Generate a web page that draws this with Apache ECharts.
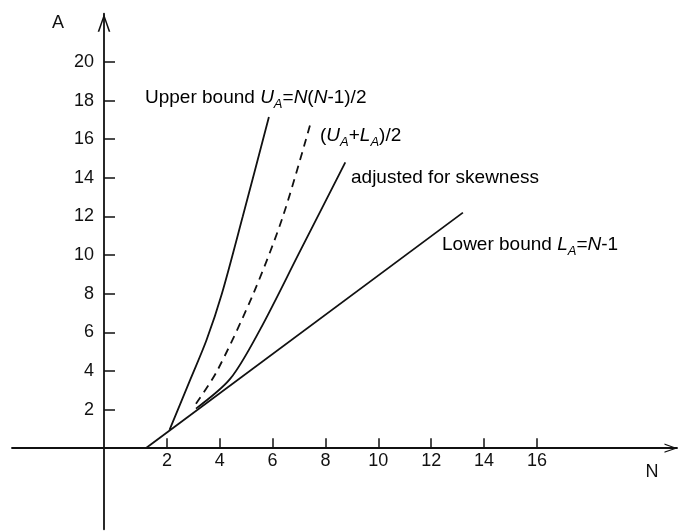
<!DOCTYPE html>
<html>
<head>
<meta charset="utf-8">
<title>bounds on A</title>
<script src="https://cdn.jsdelivr.net/npm/echarts@6/dist/echarts.min.js"></script>
<style>
	body { margin: 0; background: #fff; }
	#chart { width: 678px; height: 532px; }
</style>
</head>
<body>
<div id="chart"></div>
<script>
	// tick labels
	var nTicks = [2, 4, 6, 8, 10, 12, 14, 16];
	var aTicks = [2, 4, 6, 8, 10, 12, 14, 16, 18, 20];

	// curves, [N, A]
	var upperBound = [[2.1, 0.95], [2.9, 3.6], [3.5, 5.6], [4.08, 8], [4.87, 12], [5.86, 17.15]];
	var midBound = [[3.1, 2.3], [3.9, 4], [5.27, 8], [6.39, 12], [7.45, 16.9]];
	var adjusted = [[3.1, 2.05], [4.4, 3.6], [5.52, 6.13], [7.0, 10.1], [8.75, 14.8]];
	var lowerBound = [[1.2, 0], [13.2, 12.2]];

	var ink = '#111';
	var fam = '"Liberation Sans", Arial, sans-serif';
	// open arrow head, pointing up
	var chevron = 'path://M6,0 L12,17 L10.4,17 L6,4 L1.6,17 L0,17 Z';

	var rich = {
		t: { fontSize: 19, fontFamily: fam, color: ink, lineHeight: 26, verticalAlign: 'middle' },
		i: { fontSize: 19, fontFamily: fam, fontStyle: 'italic', color: ink, lineHeight: 26, verticalAlign: 'middle' },
		s: { fontSize: 13, fontFamily: fam, fontStyle: 'italic', color: ink, lineHeight: 12, verticalAlign: 'bottom' }
	};

	function note(x, y, text) {
		return {
			type: 'text', x: x, y: y, silent: true,
			style: { text: text, rich: rich, verticalAlign: 'middle', align: 'left' }
		};
	}

	function curve(data, dashed) {
		return {
			type: 'line', data: data, symbol: 'none', smooth: 0.3,
			lineStyle: { color: ink, width: 1.8, type: dashed ? [8, 6] : 'solid' }
		};
	}

	var chart = echarts.init(document.getElementById('chart'));
	var option = {
		animation: false,
		backgroundColor: '#fff',
		// upper grid holds the curves, lower one only carries the A axis below N
		grid: [
			{ left: 12, right: 1, top: 13.7, bottom: 83.8, outerBoundsMode: 'none' },
			{ left: 12, right: 1, top: 448.2, bottom: 2.7, outerBoundsMode: 'none' }
		],
		xAxis: [{
			type: 'value', min: -3.86, max: 21.3, gridIndex: 0,
			splitLine: { show: false },
			axisLine: {
				onZero: false, symbol: ['none', chevron], symbolSize: [12, 13], symbolOffset: [0, -6],
				lineStyle: { color: ink, width: 1.8 }
			},
			axisTick: { inside: true, length: 10, customValues: nTicks, lineStyle: { color: ink, width: 1.5 } },
			axisLabel: { customValues: nTicks, margin: 4, fontSize: 18, fontFamily: fam, color: ink }
		}, {
			type: 'value', min: -3.86, max: 21.3, gridIndex: 1, show: false
		}],
		yAxis: [{
			type: 'value', min: 0, max: 22.5, offset: -92, gridIndex: 0,
			splitLine: { show: false },
			axisLine: {
				onZero: false, symbol: ['none', chevron], symbolSize: [13, 18], symbolOffset: [0, -9],
				lineStyle: { color: ink, width: 1.8 }
			},
			axisTick: { inside: true, length: 11, customValues: aTicks, lineStyle: { color: ink, width: 1.5 } },
			axisLabel: { customValues: aTicks, margin: 10, fontSize: 18, fontFamily: fam, color: ink }
		}, {
			type: 'value', min: -4.2, max: 0, offset: -92, gridIndex: 1,
			splitLine: { show: false },
			axisLine: { onZero: false, lineStyle: { color: ink, width: 1.8 } },
			axisTick: { show: false },
			axisLabel: { show: false }
		}],
		graphic: [
			{ type: 'text', x: 58, y: 23, silent: true, style: { text: 'A', fontSize: 18, fontFamily: fam, fill: ink, align: 'center', verticalAlign: 'middle' } },
			{ type: 'text', x: 652, y: 472, silent: true, style: { text: 'N', fontSize: 18, fontFamily: fam, fill: ink, align: 'center', verticalAlign: 'middle' } },
			note(145, 98, '{t|Upper bound }{i|U}{s|A}{t|=}{i|N}{t|(}{i|N}{t|-1)/2}'),
			note(320, 136, '{t|(}{i|U}{s|A}{t|+}{i|L}{s|A}{t|)/2}'),
			note(351, 178, '{t|adjusted for skewness}'),
			note(442, 245, '{t|Lower bound }{i|L}{s|A}{t|=}{i|N}{t|-1}')
		],
		series: [
			curve(upperBound),
			curve(midBound, true),
			curve(adjusted),
			{ type: 'line', data: lowerBound, symbol: 'none', lineStyle: { color: ink, width: 1.8 } }
		]
	};
	chart.setOption(option);
</script>
</body>
</html>
